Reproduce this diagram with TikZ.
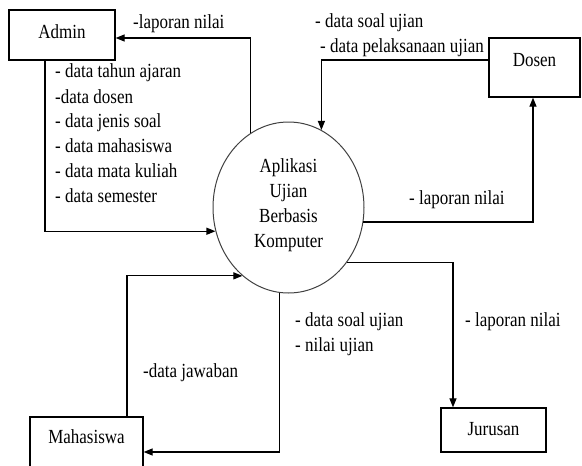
\documentclass[tikz,border=0pt]{standalone}
\usepackage{fontspec}
\setmainfont{Liberation Serif}[FakeStretch=0.85]
\usetikzlibrary{shapes.geometric,arrows.meta}

\begin{document}
\begin{tikzpicture}[x=1pt,y=-1pt,
  every node/.style={font=\fontsize{20}{25}\selectfont},
  entity/.style={draw=black,line width=1.3pt,rectangle,inner sep=0pt},
  proc/.style={draw=black!75,line width=1pt,ellipse,inner sep=0pt,
    minimum width=151pt,minimum height=171pt},
  flow/.style={draw=black,line width=1.2pt,-{Triangle[length=9pt,width=7pt]}},
  lbl/.style={anchor=west,inner sep=0pt,text height=0.7em,text depth=0.22em}]

\useasboundingbox (0,0) rectangle (582,466);
\clip (0,0) rectangle (582,466);

% external entities
\node[entity,minimum width=106pt,minimum height=50pt,
  label={[yshift=3pt]center:Admin}] (admin) at (62,35) {};
\node[entity,minimum width=91pt,minimum height=59pt,
  label={[yshift=7.5pt]center:Dosen}] (dosen) at (534.5,67.5) {};
\node[entity,minimum width=105pt,minimum height=44pt,
  label={[yshift=1pt]center:Jurusan}] (jurusan) at (493.5,430) {};
\node[entity,minimum width=113pt,minimum height=70pt,
  label={[yshift=15pt]center:Mahasiswa}] (mahasiswa) at (86.5,452) {};

% process
\node[proc,label={[align=center,yshift=2.5pt]center:{Aplikasi\\Ujian\\Berbasis\\Komputer}}]
  (proc) at (288.5,207.5) {};

% data flows
\draw[flow] (proc.117.65) |- ([yshift=-3pt]admin.east);
\draw[flow] ([xshift=-17pt]admin.south) |- (proc.198.7);
\draw[flow] ([yshift=7.5pt]dosen.west) -| (proc.67.88);
\draw[flow] (proc.349) -| ([xshift=-1.5pt]dosen.south);
\draw[flow] (proc.317.75) -| ([xshift=-40.5pt]jurusan.north);
\draw[flow] (proc.264.3) |- (mahasiswa.east);
\draw[flow] ([xshift=40.5pt]mahasiswa.north) |- (proc.236.58);

% flow labels
\node[lbl] (l1) at (133,26) {-laporan nilai};
\node[lbl] (a1) at (55,75) {- data tahun ajaran};
\node[lbl] (a2) at (55,101) {-data dosen};
\node[lbl] (a3) at (55,125) {- data jenis soal};
\node[lbl] (a4) at (55,150) {- data mahasiswa};
\node[lbl] (a5) at (55,175) {- data mata kuliah};
\node[lbl] (a6) at (55,200) {- data semester};
\node[lbl] (d1) at (315,25) {- data soal ujian};
\node[lbl] (d2) at (320,50) {- data pelaksanaan ujian};
\node[lbl] (d3) at (409,202) {- laporan nilai};
\node[lbl] (m1) at (295,324) {- data soal ujian};
\node[lbl] (m2) at (295,349) {- nilai ujian};
\node[lbl] (j1) at (465,324) {- laporan nilai};
\node[lbl] (m3) at (143,375) {-data jawaban};
\end{tikzpicture}
\end{document}
